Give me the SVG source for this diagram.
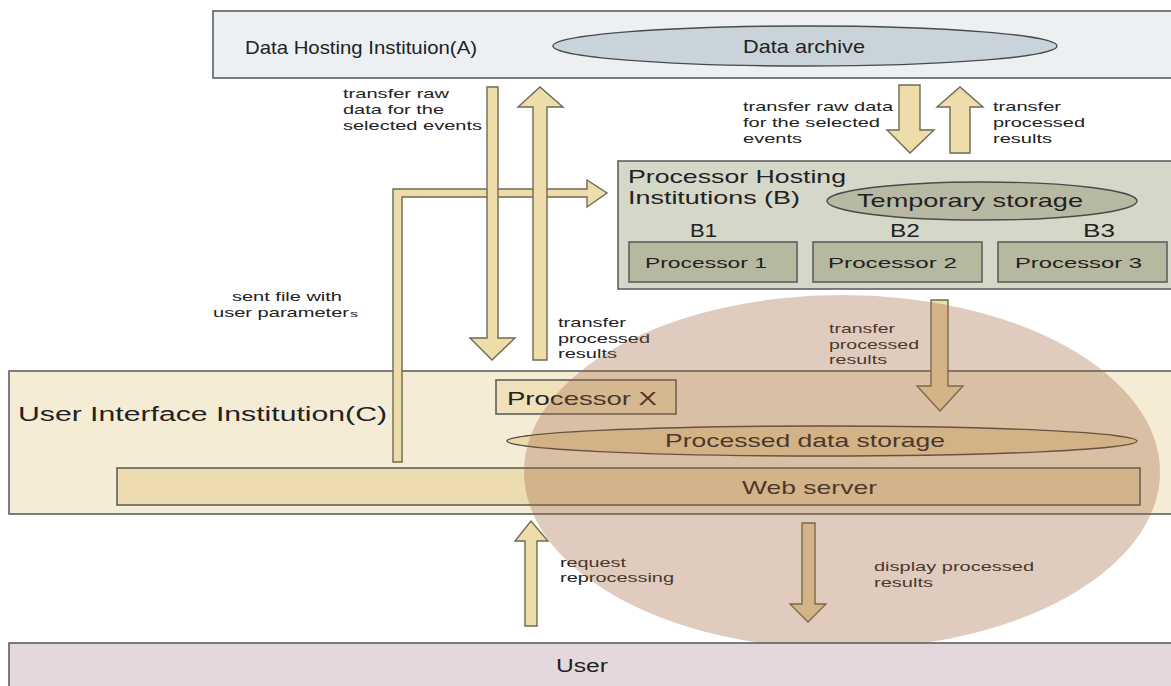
<svg xmlns="http://www.w3.org/2000/svg" width="1171" height="686" viewBox="0 0 1171 686">
<style>
text{font-family:"Liberation Sans",Arial,sans-serif;fill:#222;}
.box{stroke:#5f5f5f;stroke-width:1.6;}
.ell{stroke:#4a4a4a;stroke-width:1.4;}
.arrow{fill:#eedcab;stroke:#6e6a52;stroke-width:1.4;stroke-linejoin:miter;}
.lbl{font-size:13px;}
.big{font-size:19px;}
.mid{font-size:15px;}
</style>
<rect width="1171" height="686" fill="#ffffff"/>

<g id="nodeA">
<rect class="box" x="213" y="11" width="970" height="67" fill="#edf0f2"/>
<text class="big" x="245" y="54" textLength="232" lengthAdjust="spacingAndGlyphs">Data Hosting Instituion(A)</text>
<ellipse class="ell" cx="805" cy="46" rx="252" ry="20" fill="#c9d4da"/>
<text class="big" x="743" y="53" textLength="122" lengthAdjust="spacingAndGlyphs">Data archive</text>
</g>

<g id="nodeB">
<rect class="box" x="618" y="161" width="565" height="128" fill="#d5d7c8"/>
<text class="big" x="628" y="183" textLength="218" lengthAdjust="spacingAndGlyphs">Processor Hosting</text>
<text class="big" x="628" y="204" textLength="172" lengthAdjust="spacingAndGlyphs">Institutions (B)</text>
<ellipse class="ell" cx="982" cy="201" rx="155" ry="19" fill="#b8b9a2"/>
<text class="big" x="857" y="207" textLength="226" lengthAdjust="spacingAndGlyphs">Temporary storage</text>
<text class="big" x="690" y="237" textLength="27" lengthAdjust="spacingAndGlyphs">B1</text>
<text class="big" x="890" y="237" textLength="30" lengthAdjust="spacingAndGlyphs">B2</text>
<text class="big" x="1083" y="237" textLength="32" lengthAdjust="spacingAndGlyphs">B3</text>
</g>
<g id="nodeB1">
<rect class="box" x="629" y="242" width="168" height="40" fill="#b6b8a0"/>
<text class="mid" x="645" y="268" textLength="122" lengthAdjust="spacingAndGlyphs">Processor 1</text>
</g>
<g id="nodeB2">
<rect class="box" x="813" y="242" width="169" height="40" fill="#b6b8a0"/>
<text class="mid" x="828" y="268" textLength="129" lengthAdjust="spacingAndGlyphs">Processor 2</text>
</g>
<g id="nodeB3">
<rect class="box" x="998" y="242" width="169" height="40" fill="#b6b8a0"/>
<text class="mid" x="1015" y="268" textLength="127" lengthAdjust="spacingAndGlyphs">Processor 3</text>
</g>

<g id="nodeC">
<rect class="box" x="9" y="371" width="1175" height="143" fill="#f5ecd5"/>
<text style="font-size:20px" x="18" y="421" textLength="369" lengthAdjust="spacingAndGlyphs">User Interface Institution(C)</text>
</g>
<g id="nodeProcX">
<rect class="box" x="496" y="380" width="180" height="34" fill="#f0e1b9"/>
<text class="big" x="507" y="405" textLength="150" lengthAdjust="spacingAndGlyphs">Processor X</text>
</g>
<g id="nodeStorage">
<ellipse class="ell" cx="822" cy="441" rx="315" ry="15" fill="#ecd9aa"/>
<text class="big" x="665" y="447" textLength="280" lengthAdjust="spacingAndGlyphs">Processed data storage</text>
</g>
<g id="nodeWeb">
<rect class="box" x="117" y="468" width="1023" height="37" fill="#ecdcb0"/>
<text class="big" x="742" y="494" textLength="135" lengthAdjust="spacingAndGlyphs">Web server</text>
</g>

<g id="connectors">
<path class="arrow" d="M393,462 L393,189 L587,189 L587,180 L607,193 L587,207 L587,197 L402,197 L402,462 Z"/>
<polygon class="arrow" points="487,87 498,87 498,338 515,338 492,360 470,338 487,338"/>
<polygon class="arrow" points="533,360 547,360 547,107 563,107 540,87 518,107 533,107"/>
<polygon class="arrow" points="899,85 920,85 920,130 934,130 910,153 887,130 899,130"/>
<polygon class="arrow" points="950,153 970,153 970,107 983,107 960,87 937,107 950,107"/>
<polygon class="arrow" points="931,300 948,300 948,386 963,386 940,411 917,386 931,386"/>
<polygon class="arrow" points="525,626 537,626 537,541 548,541 531,521 515,541 525,541"/>
<polygon class="arrow" points="802,523 815,523 815,604 826,604 808,622 790,604 802,604"/>
<g class="lbl">
<text class="lbl" x="343" y="98" textLength="106" lengthAdjust="spacingAndGlyphs">transfer raw</text>
<text class="lbl" x="343" y="114" textLength="101" lengthAdjust="spacingAndGlyphs">data for the</text>
<text class="lbl" x="343" y="130" textLength="139" lengthAdjust="spacingAndGlyphs">selected events</text>
<text class="lbl" x="743" y="111" textLength="150" lengthAdjust="spacingAndGlyphs">transfer raw data</text>
<text class="lbl" x="743" y="127" textLength="137" lengthAdjust="spacingAndGlyphs">for the selected</text>
<text class="lbl" x="743" y="143" textLength="59" lengthAdjust="spacingAndGlyphs">events</text>
<text class="lbl" x="993" y="111" textLength="68" lengthAdjust="spacingAndGlyphs">transfer</text>
<text class="lbl" x="993" y="127" textLength="92" lengthAdjust="spacingAndGlyphs">processed</text>
<text class="lbl" x="993" y="143" textLength="59" lengthAdjust="spacingAndGlyphs">results</text>
<text class="lbl" x="232" y="301" textLength="110" lengthAdjust="spacingAndGlyphs">sent file with</text>
<text class="lbl" x="213" y="317" textLength="136" lengthAdjust="spacingAndGlyphs">user parameter</text>
<text x="350" y="317" style="font-size:9px" textLength="8" lengthAdjust="spacingAndGlyphs">s</text>
<text class="lbl" x="558" y="327" textLength="68" lengthAdjust="spacingAndGlyphs">transfer</text>
<text class="lbl" x="558" y="343" textLength="92" lengthAdjust="spacingAndGlyphs">processed</text>
<text class="lbl" x="558" y="358" textLength="59" lengthAdjust="spacingAndGlyphs">results</text>
<text class="lbl" x="829" y="333" textLength="66" lengthAdjust="spacingAndGlyphs">transfer</text>
<text class="lbl" x="829" y="349" textLength="90" lengthAdjust="spacingAndGlyphs">processed</text>
<text class="lbl" x="829" y="364" textLength="58" lengthAdjust="spacingAndGlyphs">results</text>
<text class="lbl" x="560" y="567" textLength="66" lengthAdjust="spacingAndGlyphs">request</text>
<text class="lbl" x="560" y="582" textLength="114" lengthAdjust="spacingAndGlyphs">reprocessing</text>
<text class="lbl" x="874" y="571" textLength="160" lengthAdjust="spacingAndGlyphs">display processed</text>
<text class="lbl" x="874" y="587" textLength="59" lengthAdjust="spacingAndGlyphs">results</text>
</g>
</g>

<g id="highlight">
<ellipse cx="842" cy="472" rx="318" ry="177" fill="#a0643c" fill-opacity="0.33"/>
</g>

<g id="nodeUser">
<rect class="box" x="9" y="643" width="1175" height="50" fill="#e4d8dc"/>
<text style="font-size:18px" x="556" y="672" textLength="52" lengthAdjust="spacingAndGlyphs">User</text>
</g>
</svg>
